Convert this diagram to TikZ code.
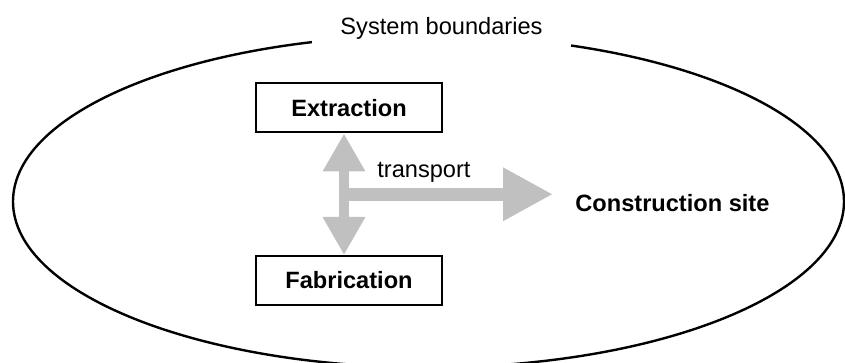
\documentclass[tikz,border=0pt]{standalone}
\usepackage{fontspec}
\setmainfont{Liberation Sans}
\usetikzlibrary{arrows.meta}
\usetikzlibrary{calc}
\definecolor{flowgray}{RGB}{192,192,192}
\newcommand{\labelsize}{\fontsize{11.8}{14}\selectfont}
\tikzset{flowtip/.tip={Triangle[width=20pt,length=19pt]}}

\begin{document}
\begin{tikzpicture}[line cap=butt,line join=miter,x=0.5pt,y=-0.5pt,
  stage/.style={draw,line width=1pt,minimum width=93pt,minimum height=24.5pt,inner sep=0pt,font=\labelsize\bfseries},
  flow/.style={draw=flowgray,line width=4.8pt}]
\useasboundingbox (0,0) rectangle (845,363);
% system boundary
\draw [line width=1.2pt] (428.5,201.5) ellipse [x radius=207.75pt,y radius=83pt];
\node [fill=white,inner xsep=14pt,inner ysep=5pt,anchor=base,font=\labelsize] (bound) at (441.5,35) {System boundaries};
% stages
\node [stage] (extr) at (349,108) {Extraction};
\node [stage] (fabr) at (349,280.5) {Fabrication};
\node [anchor=base west,inner sep=0pt,font=\labelsize\bfseries] (site) at (575,212) {Construction site};
% transport arrows
\coordinate (up) at ([xshift=-2.5pt]extr.south);
\coordinate (down) at ([xshift=-2.5pt]fabr.north);
\coordinate (junction) at ($(up)!0.5!(down)$);
\draw [flow,flowtip-flowtip] (up) -- (down);
\draw [flow,line width=6.7pt,-{Triangle[width=25pt,length=25pt]},shorten >=11pt] (junction) -- (junction -| site.west);
\node [anchor=base west,inner sep=0pt,font=\labelsize] (trans) at (377,178) {transport};
\end{tikzpicture}
\end{document}
